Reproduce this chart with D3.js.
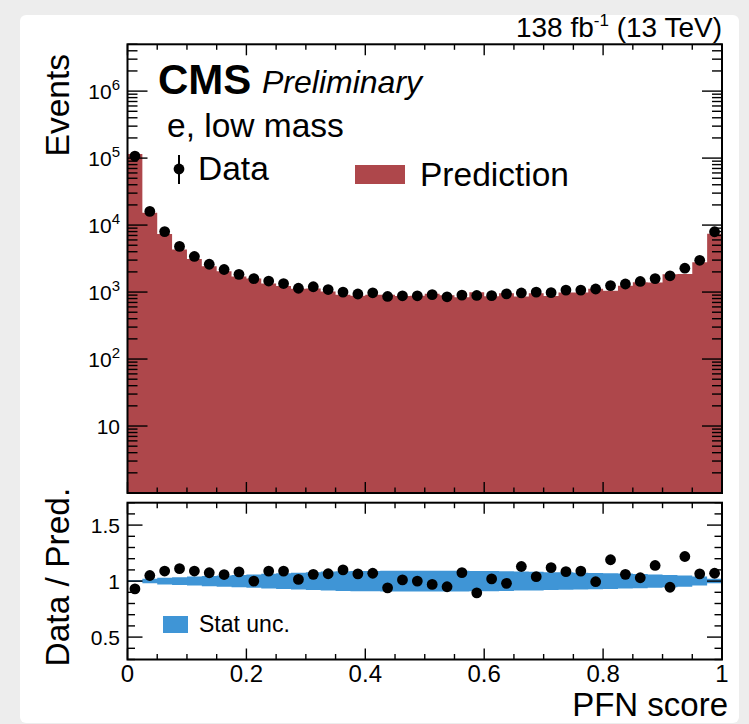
<!DOCTYPE html>
<html>
<head>
<meta charset="utf-8">
<script src="https://cdn.jsdelivr.net/npm/d3@7"></script>
<style>
  body { margin: 0; background: #ededed; }
  text { font-family: "Liberation Sans", Arial, Helvetica, sans-serif; fill: #000; }
</style>
</head>
<body>
<div id="chart"></div>
<script>
// PFN score histogram, 40 bins of width 0.025
const binEdges = d3.range(41).map(i => i / 40);

// observed events per bin
const dataCounts = [
  107000, 16000, 8000, 4800, 3400, 2600, 2170, 1840, 1590, 1460,
  1340, 1140, 1200, 1090, 1000, 935, 975, 860, 880, 880,
  915, 850, 900, 890, 885, 940, 970, 1000, 980, 1070,
  1070, 1110, 1250, 1320, 1440, 1590, 1750, 2270, 2980, 7950
];

// predicted events per bin
const predCounts = [
  115000, 15240, 7340, 4320, 3120, 2420, 2050, 1700, 1590, 1340,
  1230, 1123, 1132, 1023, 909, 878, 911, 915, 871, 880,
  943, 895, 837, 994, 868, 959, 858, 962, 875, 986,
  982, 1116, 1050, 1245, 1398, 1395, 1852, 1861, 2798, 7430
];

// relative stat. uncertainty of the prediction (half width of the band)
const statUnc = [
  0.008, 0.02, 0.03, 0.035, 0.04, 0.045, 0.05, 0.055, 0.06, 0.065,
  0.07, 0.075, 0.08, 0.085, 0.088, 0.09, 0.09, 0.092, 0.093, 0.093,
  0.093, 0.093, 0.092, 0.09, 0.09, 0.088, 0.085, 0.083, 0.08, 0.078,
  0.075, 0.072, 0.07, 0.067, 0.063, 0.06, 0.055, 0.05, 0.04, 0.02
];

const xTickLabels = ["0", "0.2", "0.4", "0.6", "0.8", "1"];
const ratioTickLabels = ["0.5", "1", "1.5"];

const W = 749, H = 724;
const left = 127.5, right = 722;
const top1 = 44.3, bot1 = 493;
const top2 = 502.7, bot2 = 659.5;
const titleSize = "33.5px";

const svg = d3.select("#chart").append("svg")
  .attr("width", W)
  .attr("height", H);

// paper background
svg.append("rect")
  .attr("x", 20).attr("y", 15)
  .attr("width", 719).attr("height", 708)
  .attr("rx", 6)
  .style("fill", "#fff");

const x = d3.scaleLinear().domain([0, 1]).range([left, right]);
const y = d3.scaleLog().domain([1, 5e6]).range([bot1, top1]);
const yr = d3.scaleLinear().domain([0.3, 1.7]).range([bot2, top2]);

const bins = dataCounts.map((d, i) => ({
  x0: binEdges[i], x1: binEdges[i + 1], xc: (binEdges[i] + binEdges[i + 1]) / 2,
  data: d, pred: predCounts[i], unc: statUnc[i], ratio: d / predCounts[i]
}));

// step arrays (repeat last bin at right edge)
const steps = bins.map(b => ({ x: b.x0, pred: b.pred, unc: b.unc }));
steps.push({ x: 1, pred: bins[39].pred, unc: bins[39].unc });

// ---------- top panel ----------
const mainPanel = svg.append("g");

mainPanel.append("path")
  .datum(steps)
  .attr("d", d3.area()
    .curve(d3.curveStepAfter)
    .x(d => x(d.x))
    .y0(y(1))
    .y1(d => y(d.pred)))
  .style("fill", "#ae474b");

mainPanel.selectAll("circle.data")
  .data(bins)
  .enter().append("circle")
  .attr("class", "data")
  .attr("cx", d => x(d.xc))
  .attr("cy", d => y(d.data))
  .attr("r", 5.4)
  .style("fill", "#000");

// ---------- ratio panel ----------
const ratioPanel = svg.append("g");

ratioPanel.append("path")
  .datum(steps)
  .attr("d", d3.area()
    .curve(d3.curveStepAfter)
    .x(d => x(d.x))
    .y0(d => yr(1 - d.unc))
    .y1(d => yr(1 + d.unc)))
  .style("fill", "#3f95d6");

ratioPanel.selectAll("circle.ratio")
  .data(bins)
  .enter().append("circle")
  .attr("class", "ratio")
  .attr("cx", d => x(d.xc))
  .attr("cy", d => yr(d.ratio))
  .attr("r", 5.4)
  .style("fill", "#000");

// ---------- ticks ----------
function isMajorX(t) { return Math.abs(t * 5 - Math.round(t * 5)) < 1e-6; }

function xTicks(g, yBottom, yTop) {
  const ticks = x.ticks(20);
  g.selectAll(null).data(ticks).enter().append("line")
    .attr("x1", d => x(d)).attr("x2", d => x(d))
    .attr("y1", yBottom).attr("y2", d => yBottom - (isMajorX(d) ? 11 : 5.5))
    .style("stroke", "#000").style("stroke-width", 1.4);
  g.selectAll(null).data(ticks).enter().append("line")
    .attr("x1", d => x(d)).attr("x2", d => x(d))
    .attr("y1", yTop).attr("y2", d => yTop + (isMajorX(d) ? 11 : 5.5))
    .style("stroke", "#000").style("stroke-width", 1.4);
}
xTicks(svg.append("g"), bot1, top1);
xTicks(svg.append("g"), bot2, top2);

// log y ticks
const logTicks = y.ticks().filter(t => t >= 1 && t <= 5e6);
const isDecade = t => Math.abs(Math.log10(t) - Math.round(Math.log10(t))) < 1e-9;
const yt = svg.append("g");
[[left, 1], [right, -1]].forEach(([x0, s]) => {
  yt.selectAll(null).data(logTicks).enter().append("line")
    .attr("x1", x0).attr("x2", d => x0 + s * (isDecade(d) ? 20 : 10))
    .attr("y1", d => y(d)).attr("y2", d => y(d))
    .style("stroke", "#000").style("stroke-width", 1.4);
});

// ratio y ticks
const rTicks = yr.ticks(14);
const isHalf = t => Math.abs(t * 2 - Math.round(t * 2)) < 1e-6;
[[left, 1], [right, -1]].forEach(([x0, s]) => {
  yt.selectAll(null).data(rTicks).enter().append("line")
    .attr("x1", x0).attr("x2", d => x0 + s * (isHalf(d) ? 15 : 7.5))
    .attr("y1", d => yr(d)).attr("y2", d => yr(d))
    .style("stroke", "#000").style("stroke-width", 1.4);
});

// frames
[[top1, bot1], [top2, bot2]].forEach(([a, b]) => {
  svg.append("rect")
    .attr("x", left).attr("y", a)
    .attr("width", right - left).attr("height", b - a)
    .style("fill", "none").style("stroke", "#000").style("stroke-width", 2);
});

// ---------- tick labels ----------
const decadeLabels = logTicks.filter(t => isDecade(t) && t >= 10);
const yl = svg.append("g");
decadeLabels.forEach(t => {
  const e = Math.round(Math.log10(t));
  const txt = yl.append("text")
    .attr("x", 120)
    .attr("y", y(t) + 8)
    .attr("text-anchor", "end")
    .style("font-size", "21px");
  if (e === 1) {
    txt.text("10");
  } else {
    txt.append("tspan").text("10");
    txt.append("tspan").attr("dy", -9).style("font-size", "15px").text(e);
  }
});

yl.selectAll(null).data(ratioTickLabels).enter().append("text")
  .attr("x", 120)
  .attr("y", d => yr(+d) + 7.5)
  .attr("text-anchor", "end")
  .style("font-size", "21px")
  .text(d => d);

yl.selectAll(null).data(xTickLabels).enter().append("text")
  .attr("x", d => x(+d))
  .attr("y", 682)
  .attr("text-anchor", "middle")
  .style("font-size", "24px")
  .text(d => d);

// ---------- titles ----------
svg.append("text")
  .attr("transform", "translate(69,54) rotate(-90)")
  .attr("text-anchor", "end")
  .style("font-size", titleSize)
  .text("Events");

svg.append("text")
  .attr("transform", "translate(69," + ((top2 + bot2) / 2 - 4) + ") rotate(-90)")
  .attr("text-anchor", "middle")
  .style("font-size", titleSize)
  .text("Data / Pred.");

svg.append("text")
  .attr("x", 728).attr("y", 716)
  .attr("text-anchor", "end")
  .style("font-size", "33px")
  .text("PFN score");

const lumi = svg.append("text")
  .attr("x", 722).attr("y", 37)
  .attr("text-anchor", "end")
  .style("font-size", "28px");
lumi.append("tspan").text("138 fb");
lumi.append("tspan").attr("dy", -11).style("font-size", "17px").text("-1");
lumi.append("tspan").attr("dy", 11).text(" (13 TeV)");

svg.append("text")
  .attr("x", 158).attr("y", 94)
  .style("font-size", "42px").style("font-weight", "bold")
  .text("CMS");

svg.append("text")
  .attr("x", 262).attr("y", 93)
  .style("font-size", "32px").style("font-style", "italic")
  .text("Preliminary");

svg.append("text")
  .attr("x", 167).attr("y", 137)
  .style("font-size", titleSize)
  .text("e, low mass");

// legend: data
svg.append("line")
  .attr("x1", 179).attr("x2", 179).attr("y1", 155).attr("y2", 184)
  .style("stroke", "#000").style("stroke-width", 2);
svg.append("circle")
  .attr("cx", 179).attr("cy", 169).attr("r", 5.4)
  .style("fill", "#000");
svg.append("text")
  .attr("x", 198).attr("y", 180)
  .style("font-size", titleSize)
  .text("Data");

// legend: prediction
svg.append("rect")
  .attr("x", 355).attr("y", 165).attr("width", 50).attr("height", 19)
  .style("fill", "#ae474b");
svg.append("text")
  .attr("x", 420).attr("y", 186)
  .style("font-size", titleSize)
  .text("Prediction");

// legend: stat unc
svg.append("rect")
  .attr("x", 163).attr("y", 616).attr("width", 25).attr("height", 17)
  .style("fill", "#3f95d6");
svg.append("text")
  .attr("x", 199).attr("y", 632)
  .style("font-size", "23px")
  .text("Stat unc.");
</script>
</body>
</html>
